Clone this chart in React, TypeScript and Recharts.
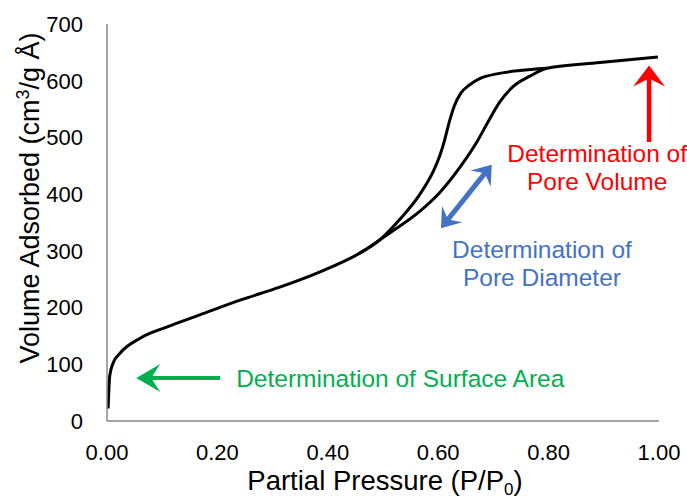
import React from 'react';
import { LineChart, Line, XAxis, YAxis, ReferenceLine, ReferenceDot, Label } from 'recharts';

// ---- data ----
const adsorptionP = [0.002, 0.005, 0.011, 0.024, 0.06, 0.109, 0.168, 0.241, 0.313, 0.386, 0.458, 0.513, 0.567, 0.603, 0.645, 0.67, 0.694, 0.712, 0.736, 0.766, 0.797, 0.893, 0.998];
const adsorptionV = [22, 80, 102, 120, 146, 166, 187, 213, 236, 263, 296, 332, 370, 403, 455, 492, 534, 563, 590, 608, 622, 632, 642];
const desorptionP = [0.458, 0.495, 0.531, 0.567, 0.591, 0.603, 0.611, 0.62, 0.629, 0.641, 0.656, 0.676, 0.706, 0.748, 0.797];
const desorptionV = [296, 320, 356, 400, 440, 468, 493, 527, 555, 578, 592, 604, 612, 618, 622];
const xTicks = [0, 0.2, 0.4, 0.6, 0.8, 1.0];
const yTicks = [0, 100, 200, 300, 400, 500, 600, 700];

// annotation anchors in data units
const surfaceArrow = [{ x: 0.205, y: 76 }, { x: 0.053, y: 76 }];
const diameterArrow = [{ x: 0.605, y: 340 }, { x: 0.697, y: 452 }];
const volumeArrow = [{ x: 0.982, y: 492 }, { x: 0.982, y: 627 }];
const surfaceText = { x: 0.234, y: 60, lines: ['Determination of Surface Area'] };
const diameterText = { x: 0.788, y: 287, lines: ['Determination of', 'Pore Diameter'] };
const volumeText = { x: 0.888, y: 457, lines: ['Determination of', 'Pore Volume'] };

const adsorption = adsorptionP.map((x, i) => ({ x, y: adsorptionV[i] }));
const desorption = desorptionP.map((x, i) => ({ x, y: desorptionV[i] }));

const FONT = '"Liberation Sans", Arial, sans-serif';
const GREEN = '#00B050';
const BLUE = '#4472C4';
const RED = '#FF0000';

function head(tx: number, ty: number, ux: number, uy: number, L: number, H: number) {
  const nx = -uy, ny = ux;
  const bx = tx - ux * L, by = ty - uy * L;
  const w1 = `${bx + nx * H},${by + ny * H}`;
  const w2 = `${bx - nx * H},${by - ny * H}`;
  const notch = `${tx - ux * L * 0.62},${ty - uy * L * 0.62}`;
  return `${tx},${ty} ${w1} ${notch} ${w2}`;
}

function arrowShape(color: string, width: number, L: number, H: number, double: boolean) {
  return (p: any) => {
    const { x1, y1, x2, y2 } = p;
    const dx = x2 - x1, dy = y2 - y1;
    const len = Math.sqrt(dx * dx + dy * dy) || 1;
    const ux = dx / len, uy = dy / len;
    const sx = double ? x1 + ux * L * 0.6 : x1;
    const sy = double ? y1 + uy * L * 0.6 : y1;
    const ex = x2 - ux * L * 0.6, ey = y2 - uy * L * 0.6;
    return (
      <g>
        <line x1={sx} y1={sy} x2={ex} y2={ey} stroke={color} strokeWidth={width} />
        <polygon points={head(x2, y2, ux, uy, L, H)} fill={color} />
        {double && <polygon points={head(x1, y1, -ux, -uy, L, H)} fill={color} />}
      </g>
    );
  };
}

function textShape(lines: string[], color: string, anchor: 'start' | 'middle') {
  return (p: any) => (
    <text x={p.cx} y={p.cy} fill={color} fontSize={24.5} fontFamily={FONT} textAnchor={anchor}>
      {lines.map((l, i) => (
        <tspan key={i} x={p.cx} dy={i === 0 ? 0 : 28}>{l}</tspan>
      ))}
    </text>
  );
}

const XTitle = (props: any) => {
  const vb = props.viewBox;
  return (
    <text x={vb.x + vb.width / 2 + 2} y={vb.y + 69} fontSize={27.5} fontFamily={FONT} fill="#000" textAnchor="middle">
      Partial Pressure (P/P<tspan fontSize={17} dy={5}>0</tspan><tspan dy={-5}>)</tspan>
    </text>
  );
};

const YTitle = (props: any) => {
  const vb = props.viewBox;
  const cx = vb.x + 39;
  const cy = vb.y + 174;
  return (
    <text x={cx} y={cy} fontSize={27} fontFamily={FONT} fill="#000" textAnchor="middle" transform={`rotate(-90, ${cx}, ${cy})`}>
      Volume Adsorbed (cm<tspan fontSize={18} dy={-10}>3</tspan><tspan dy={10}>/g Å)</tspan>
    </text>
  );
};

export default function App() {
  return (
    <div style={{ position: 'absolute', left: 0, top: 0, background: '#fff' }}>
      <LineChart width={687} height={499} margin={{ top: 24, right: 28, bottom: 0, left: 0 }}>
        <XAxis
          type="number"
          dataKey="x"
          domain={[0, 1]}
          ticks={xTicks}
          tickFormatter={(v: number) => v.toFixed(2)}
          tickLine={false}
          tickMargin={17}
          height={78}
          axisLine={{ stroke: '#878787', strokeWidth: 1.5 }}
          tick={{ fontSize: 22, fill: '#000', fontFamily: FONT }}
          allowDataOverflow
        >
          <Label content={XTitle} />
        </XAxis>
        <YAxis
          type="number"
          dataKey="y"
          domain={[0, 700]}
          ticks={yTicks}
          tickLine={false}
          tickMargin={18}
          width={107}
          axisLine={{ stroke: '#878787', strokeWidth: 1.5 }}
          tick={{ fontSize: 22, fill: '#000', fontFamily: FONT }}
        >
          <Label content={YTitle} />
        </YAxis>
        <Line data={adsorption} dataKey="y" type="monotone" stroke="#000" strokeWidth={3} dot={false} activeDot={false} isAnimationActive={false} />
        <Line data={desorption} dataKey="y" type="monotone" stroke="#000" strokeWidth={3} dot={false} activeDot={false} isAnimationActive={false} />
        <ReferenceLine segment={surfaceArrow} shape={arrowShape(GREEN, 4, 24, 14, false)} ifOverflow="visible" />
        <ReferenceLine segment={diameterArrow} shape={arrowShape(BLUE, 5, 18, 13, true)} ifOverflow="visible" />
        <ReferenceLine segment={volumeArrow} shape={arrowShape(RED, 4.5, 21, 16, false)} ifOverflow="visible" />
        <ReferenceDot x={surfaceText.x} y={surfaceText.y} r={0} ifOverflow="visible" shape={textShape(surfaceText.lines, GREEN, 'start')} />
        <ReferenceDot x={diameterText.x} y={diameterText.y} r={0} ifOverflow="visible" shape={textShape(diameterText.lines, BLUE, 'middle')} />
        <ReferenceDot x={volumeText.x} y={volumeText.y} r={0} ifOverflow="visible" shape={textShape(volumeText.lines, RED, 'middle')} />
      </LineChart>
    </div>
  );
}
